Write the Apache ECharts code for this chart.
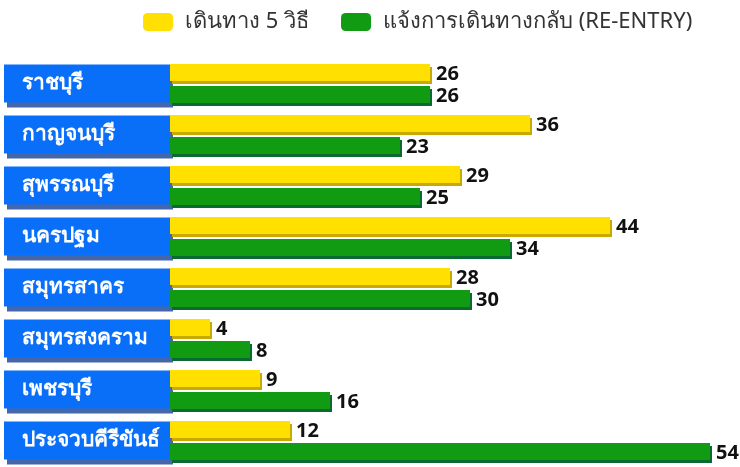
<!DOCTYPE html>
<html>
<head>
<meta charset="utf-8">
<script src="https://cdn.jsdelivr.net/npm/echarts@6/dist/echarts.min.js"></script>
<style>
  html, body { margin: 0; padding: 0; background: #fff; }
  #chart { width: 740px; height: 467px; }
</style>
</head>
<body>
<div id="chart"></div>
<script>
// จังหวัด
const provinces = ['ราชบุรี', 'กาญจนบุรี', 'สุพรรณบุรี', 'นครปฐม', 'สมุทรสาคร', 'สมุทรสงคราม', 'เพชรบุรี', 'ประจวบคีรีขันธ์'];
const seriesNames = ['เดินทาง 5 วิธี', 'แจ้งการเดินทางกลับ (RE-ENTRY)'];
const travel5 = [26, 36, 29, 44, 28, 4, 9, 12];
const reEntry = [26, 23, 25, 34, 30, 8, 16, 54];

const myChart = echarts.init(document.getElementById('chart'));
const fontFam = '"Noto Sans", sans-serif';

const barLabel = {
  show: true,
  position: 'right',
  distance: 6,
  offset: [0, 2],
  color: '#111',
  fontSize: 20,
  fontWeight: 'bold',
  fontFamily: fontFam
};

const option = {
  animation: false,
  legend: {
    top: 6,
    left: 138,
    itemWidth: 30,
    itemHeight: 18,
    itemGap: 32,
    icon: 'roundRect',
    textStyle: { fontSize: 22, color: '#333', fontFamily: fontFam, padding: [0, 0, 0, 7] },
    data: seriesNames
  },
  grid: { left: 170, right: 0, top: 58, bottom: 1 },
  xAxis: {
    type: 'value',
    min: 0,
    max: 57,
    show: false
  },
  yAxis: {
    type: 'category',
    inverse: true,
    data: provinces,
    axisLine: { show: false },
    axisTick: { show: false },
    axisLabel: {
      align: 'left',
      margin: 166,
      color: '#fff',
      fontSize: 21,
      fontWeight: 600,
      fontFamily: fontFam,
      backgroundColor: '#0a6ff8',
      width: 148,
      height: 38,
      lineHeight: 38,
      padding: [0, 0, 0, 18],
      shadowColor: '#4467ab',
      shadowOffsetX: 3,
      shadowOffsetY: 5,
      shadowBlur: 0
    }
  },
  series: [
    {
      name: seriesNames[0],
      type: 'bar',
      data: travel5,
      barWidth: 17,
      barGap: '30%',
      itemStyle: {
        color: '#ffe000',
        shadowColor: '#c7a900',
        shadowOffsetX: 2,
        shadowOffsetY: 3,
        shadowBlur: 0
      },
      label: barLabel
    },
    {
      name: seriesNames[1],
      type: 'bar',
      data: reEntry,
      barWidth: 17,
      itemStyle: {
        color: '#109b12',
        shadowColor: '#0b6a32',
        shadowOffsetX: 2,
        shadowOffsetY: 3,
        shadowBlur: 0
      },
      label: barLabel
    }
  ]
};

option && myChart.setOption(option);
</script>
</body>
</html>
